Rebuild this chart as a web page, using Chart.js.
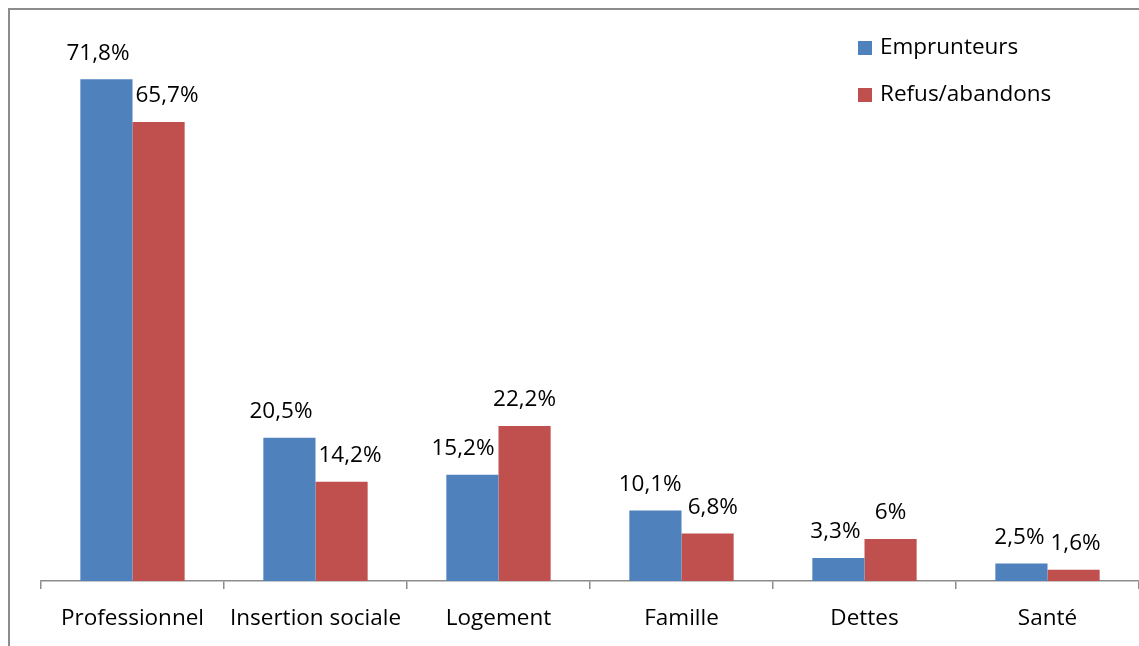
<!DOCTYPE html>
<html>
<head>
<meta charset="utf-8">
<script src="https://cdn.jsdelivr.net/npm/chart.js@4"></script>
<style>
  body { margin: 0; background: #fff; overflow: hidden; }
  #frame { position: absolute; left: 8px; top: 8px; width: 1200px; height: 700px; border: 2px solid #8c8c8c; box-sizing: border-box; }
  #wrap { position: absolute; left: 0; top: 0; width: 1139px; height: 646px; }
</style>
</head>
<body>
<div id="frame"></div>
<div id="wrap"><canvas id="chart" width="1139" height="646"></canvas></div>
<script>
const categories = ["Professionnel", "Insertion sociale", "Logement", "Famille", "Dettes", "Santé"];
const emprunteurs = [71.8, 20.5, 15.2, 10.1, 3.3, 2.5];
const refus = [65.7, 14.2, 22.2, 6.8, 6, 1.6];
const seriesNames = ["Emprunteurs", "Refus/abandons"];
const colors = ["#4F81BD", "#C0504D"];

const font = "'Open Sans', 'Liberation Sans', sans-serif";
const fontSize = 22.5;

// pourcentages au-dessus des barres, écartés quand ils se chevauchent (comme Excel)
const labelsPlugin = {
  id: "barLabels",
  afterDatasetsDraw(chart) {
    const ctx = chart.ctx;
    ctx.save();
    ctx.font = fontSize + "px " + font;
    ctx.fillStyle = "#000";
    ctx.textAlign = "center";
    ctx.textBaseline = "middle";
    const m0 = chart.getDatasetMeta(0).data;
    const m1 = chart.getDatasetMeta(1).data;
    const fmt = v => String(v).replace(".", ",") + "%";
    categories.forEach((c, j) => {
      const b = m0[j], r = m1[j];
      const tb = fmt(emprunteurs[j]), tr = fmt(refus[j]);
      const wb = ctx.measureText(tb).width, wr = ctx.measureText(tr).width;
      let xb = b.x, yb = b.y - 26, xr = r.x, yr = r.y - 26;
      const rLeft = r.x - r.width / 2;
      // le libellé bleu touche la barre rouge : on le pousse à gauche
      if (yb + 15 > r.y && xb + wb / 2 > rLeft - 4) xb = rLeft - 4 - wb / 2;
      // les deux libellés se chevauchent : on les écarte
      if (Math.abs(yb - yr) < 48) {
        const overlap = (xb + wb / 2 + 6) - (xr - wr / 2);
        if (overlap > 0) { xb -= overlap / 2; xr += overlap / 2; }
      }
      ctx.fillText(tb, xb, yb);
      ctx.fillText(tr, xr, yr);
    });
    ctx.restore();
  }
};

// légende en haut à droite
const legendPlugin = {
  id: "sideLegend",
  afterDraw(chart) {
    const ctx = chart.ctx;
    ctx.save();
    ctx.font = fontSize + "px " + font;
    ctx.textBaseline = "middle";
    seriesNames.forEach((name, i) => {
      const y = 48 + i * 47;
      ctx.fillStyle = colors[i];
      ctx.fillRect(858, y - 7, 14, 14);
      ctx.fillStyle = "#000";
      ctx.fillText(name, 880, y);
    });
    ctx.restore();
  }
};

new Chart(document.getElementById("chart"), {
  type: "bar",
  data: {
    labels: categories,
    datasets: [
      { label: seriesNames[0], data: emprunteurs, backgroundColor: colors[0] },
      { label: seriesNames[1], data: refus, backgroundColor: colors[1] }
    ]
  },
  options: {
    responsive: false,
    animation: false,
    layout: { padding: { left: 41, right: 0, top: 22, bottom: 0 } },
    datasets: { bar: { barPercentage: 1, categoryPercentage: 0.57 } },
    plugins: { legend: { display: false }, tooltip: { enabled: false } },
    scales: {
      x: {
        offset: true,
        grid: { offset: true, drawOnChartArea: false, drawTicks: true, tickLength: 8, color: "#8c8c8c", lineWidth: 1.5 },
        border: { display: true, color: "#8c8c8c", width: 1.5 },
        ticks: { color: "#000", font: { size: fontSize, family: font }, padding: 16, maxRotation: 0, autoSkip: false },
        afterFit(scale) { scale.height = 65; }
      },
      y: { display: false, min: 0, max: 80 }
    }
  },
  plugins: [labelsPlugin, legendPlugin]
});
</script>
</body>
</html>
